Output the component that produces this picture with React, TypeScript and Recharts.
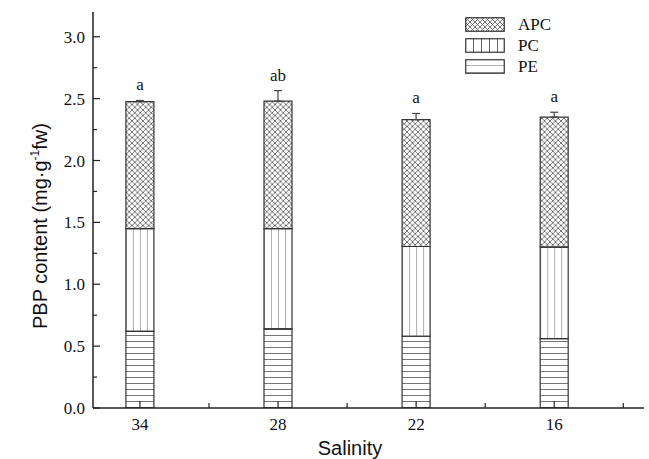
import React from 'react';
import { BarChart, Bar, XAxis, YAxis, ErrorBar, LabelList, Legend } from 'recharts';

const categories = ['34', '28', '22', '16'];
const peValues = [0.62, 0.64, 0.58, 0.56];
const pcValues = [0.83, 0.81, 0.725, 0.74];
const apcValues = [1.025, 1.03, 1.025, 1.05];
const errValues = [0.01, 0.085, 0.05, 0.04];
const letters = ['a', 'ab', 'a', 'a'];
const yTicks = [0, 0.25, 0.5, 0.75, 1, 1.25, 1.5, 1.75, 2, 2.25, 2.5, 2.75, 3];
const xTicks = [1, 1.5, 2, 2.5, 3, 3.5, 4, 4.5];
const legendItems = [
  { key: 'APC', pattern: 'cross' },
  { key: 'PC', pattern: 'vert' },
  { key: 'PE', pattern: 'horiz' },
];

const data = categories.map((c, i) => ({
  pos: i + 1,
  name: c,
  PE: peValues[i],
  PC: pcValues[i],
  APC: apcValues[i],
  err: [0, errValues[i]],
  letter: letters[i],
  idx: i,
}));

const SERIF = '"Liberation Serif", "Times New Roman", serif';
const SANS = '"Liberation Sans", Arial, sans-serif';
const AXIS = '#222';

const YTick = (props: any) => {
  const { x, y, payload } = props;
  const v = payload.value;
  const major = Math.abs(v * 2 - Math.round(v * 2)) < 1e-6;
  const ax = x + 8;
  return (
    <g>
      <line x1={ax} x2={ax + (major ? 7 : 4)} y1={y} y2={y} stroke={AXIS} strokeWidth={1.2} />
      {major && (
        <text x={x} y={y} dy={6} textAnchor="end" fontFamily={SERIF} fontSize={17} fill="#111">
          {v.toFixed(1)}
        </text>
      )}
    </g>
  );
};

const XTick = (props: any) => {
  const { x, y, payload } = props;
  const v = payload.value;
  const major = Math.abs(v - Math.round(v)) < 1e-6;
  const ay = y - 8;
  return (
    <g>
      <line x1={x} x2={x} y1={ay} y2={ay - (major ? 7 : 5)} stroke={AXIS} strokeWidth={1.2} />
      {major && (
        <text x={x} y={y} dy={14} textAnchor="middle" fontFamily={SERIF} fontSize={17} fill="#111">
          {categories[Math.round(v) - 1]}
        </text>
      )}
    </g>
  );
};

const LetterLabel = (props: any) => {
  const { x, y, width, height, value, index } = props;
  const i = typeof index === 'number' ? index : letters.indexOf(value);
  const ppu = Math.abs(height) / apcValues[i];
  const top = y - errValues[i] * ppu;
  return (
    <text x={x + width / 2} y={top - 10} textAnchor="middle" fontFamily={SERIF} fontSize={17} fill="#111">
      {value}
    </text>
  );
};

const Swatch = ({ pattern }: { pattern: string }) => (
  <svg width={40} height={15} style={{ display: 'block' }}>
    <defs>
      <pattern id={`lg-${pattern}`} patternUnits="userSpaceOnUse" width={pattern === 'cross' ? 5 : 8} height={pattern === 'cross' ? 5 : 7}>
        {pattern === 'cross' && (
          <g stroke="#555" strokeWidth={0.8}>
            <line x1={0} y1={0} x2={5} y2={5} />
            <line x1={5} y1={0} x2={0} y2={5} />
          </g>
        )}
        {pattern === 'vert' && <line x1={0.5} y1={0} x2={0.5} y2={7} stroke="#666" strokeWidth={1} />}
        {pattern === 'horiz' && <line x1={0} y1={7} x2={8} y2={7} stroke="#666" strokeWidth={1} />}
      </pattern>
    </defs>
    <rect x={0.75} y={0.75} width={38.5} height={13.5} fill={`url(#lg-${pattern})`} stroke="#333" strokeWidth={1.2} />
  </svg>
);

const LegendContent = () => (
  <div style={{ display: 'flex', flexDirection: 'column', gap: 6 }}>
    {legendItems.map((it) => (
      <div key={it.key} style={{ display: 'flex', alignItems: 'center', height: 15 }}>
        <Swatch pattern={it.pattern} />
        <span style={{ marginLeft: 13, fontFamily: SERIF, fontSize: 17, color: '#111', lineHeight: '15px' }}>{it.key}</span>
      </div>
    ))}
  </div>
);

const YLabel = () => (
  <text
    x={47}
    y={226}
    transform="rotate(-90, 47, 226)"
    textAnchor="middle"
    fontFamily={SANS}
    fontSize={20}
    fill="#111"
  >
    PBP content (mg·g
    <tspan dy={-8} fontSize={12}>-1</tspan>
    <tspan dy={8}>fw)</tspan>
  </text>
);

const XLabel = () => (
  <text x={350} y={455} textAnchor="middle" fontFamily={SANS} fontSize={20} fill="#111">
    Salinity
  </text>
);

export default function App() {
  return (
    <div style={{ position: 'absolute', left: 0, top: 0, width: 649, height: 459, background: '#fff' }}>
      <BarChart
        width={649}
        height={459}
        data={data}
        margin={{ top: 12, right: 5, bottom: 0, left: 0 }}
        barSize={28}
      >
        <defs>
          <pattern id="p-horiz" patternUnits="userSpaceOnUse" width={10} height={6}>
            <line x1={0} y1={5.5} x2={10} y2={5.5} stroke="#777" strokeWidth={1} />
          </pattern>
          <pattern id="p-vert" patternUnits="objectBoundingBox" width={0.25} height={1}>
            <line x1={0} y1={0} x2={0} y2={2000} stroke="#777" strokeWidth={1.2} />
          </pattern>
          <pattern id="p-cross" patternUnits="userSpaceOnUse" width={5.5} height={5.5}>
            <g stroke="#555" strokeWidth={0.8}>
              <line x1={0} y1={0} x2={5.5} y2={5.5} />
              <line x1={5.5} y1={0} x2={0} y2={5.5} />
            </g>
          </pattern>
        </defs>
        <XAxis
          dataKey="pos"
          type="number"
          domain={[0.66, 4.65]}
          ticks={xTicks}
          allowDataOverflow
          height={51}
          tickSize={0}
          tickMargin={8}
          tickLine={false}
          tick={<XTick />}
          axisLine={{ stroke: AXIS, strokeWidth: 1.5 }}
          label={<XLabel />}
          interval={0}
        />
        <XAxis
          xAxisId="top"
          orientation="top"
          dataKey="pos"
          type="number"
          domain={[0.66, 4.65]}
          height={0}
          tick={false}
          tickLine={false}
          axisLine={{ stroke: AXIS, strokeWidth: 1.5 }}
        />
        <YAxis
          type="number"
          domain={[0, 3.2]}
          ticks={yTicks}
          allowDataOverflow
          width={93}
          tickSize={0}
          tickMargin={8}
          tickLine={false}
          tick={<YTick />}
          axisLine={{ stroke: AXIS, strokeWidth: 1.5 }}
          label={<YLabel />}
          interval={0}
        />
        <YAxis
          yAxisId="right"
          orientation="right"
          width={0}
          domain={[0, 3.2]}
          tick={false}
          tickLine={false}
          axisLine={{ stroke: AXIS, strokeWidth: 1.5 }}
        />
        <Legend
          verticalAlign="middle"
          align="center"
          layout="vertical"
          content={<LegendContent />}
          wrapperStyle={{ position: 'absolute', left: 465, top: 17, width: 120, height: 60 }}
        />
        <Bar dataKey="PE" stackId="s" fill="url(#p-horiz)" stroke="#333" strokeWidth={1.2} isAnimationActive={false} />
        <Bar dataKey="PC" stackId="s" fill="url(#p-vert)" stroke="#333" strokeWidth={1.2} isAnimationActive={false} />
        <Bar dataKey="APC" stackId="s" fill="url(#p-cross)" stroke="#333" strokeWidth={1.2} isAnimationActive={false}>
          <ErrorBar dataKey="err" width={4} stroke="#444" strokeWidth={1.2} direction="y" />
          <LabelList dataKey="letter" content={<LetterLabel />} />
        </Bar>
      </BarChart>
    </div>
  );
}
